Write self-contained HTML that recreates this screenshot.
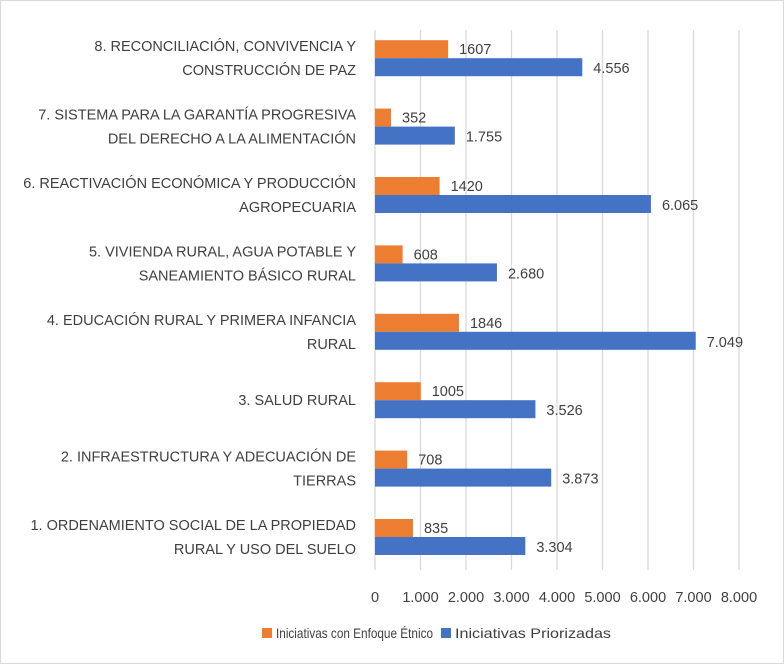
<!DOCTYPE html>
<html><head><meta charset="utf-8"><style>
body{margin:0;background:#fff}
svg{display:block;font-family:"Liberation Sans",sans-serif}
</style></head><body>
<svg id="c" width="784" height="664">
<rect x="0.5" y="0.5" width="783" height="663" fill="#fff" stroke="#d9d9d9"/>
<g id="grid"></g>
<g id="bars"></g>
<g id="cats"></g>
<g id="ticks"></g>
<g>
<rect x="262" y="628" width="10" height="10" fill="#ed7d31"/>
<text x="276" y="638" font-size="14" fill="#404040" textLength="157" lengthAdjust="spacingAndGlyphs">Iniciativas con Enfoque Étnico</text>
<rect x="441" y="628" width="10" height="10" fill="#4472c4"/>
<text x="455" y="638" font-size="14" fill="#404040" textLength="156" lengthAdjust="spacingAndGlyphs">Iniciativas Priorizadas</text>
</g>
</svg>
<script>
const categories=[
["1. ORDENAMIENTO SOCIAL DE LA PROPIEDAD","RURAL Y USO DEL SUELO"],
["2. INFRAESTRUCTURA Y ADECUACIÓN DE","TIERRAS"],
["3. SALUD RURAL"],
["4. EDUCACIÓN RURAL Y PRIMERA INFANCIA","RURAL"],
["5. VIVIENDA RURAL, AGUA POTABLE Y","SANEAMIENTO BÁSICO RURAL"],
["6. REACTIVACIÓN ECONÓMICA Y PRODUCCIÓN","AGROPECUARIA"],
["7. SISTEMA PARA LA GARANTÍA PROGRESIVA","DEL DERECHO A LA ALIMENTACIÓN"],
["8. RECONCILIACIÓN, CONVIVENCIA Y","CONSTRUCCIÓN DE PAZ"]];
const etnico=[835,708,1005,1846,608,1420,352,1607];
const etnicoLabels=["835","708","1005","1846","608","1420","352","1607"];
const priorizadas=[3304,3873,3526,7049,2680,6065,1755,4556];
const priorizadasLabels=["3.304","3.873","3.526","7.049","2.680","6.065","1.755","4.556"];
const tickValues=[0,1000,2000,3000,4000,5000,6000,7000,8000];
const tickLabels=["0","1.000","2.000","3.000","4.000","5.000","6.000","7.000","8.000"];
const NS="http://www.w3.org/2000/svg";
const x=v=>375+v*(739-375)/8000;
const yCenter=i=>537-(i)*68.4;
function mk(t,a,p){const e=document.createElementNS(NS,t);for(const k in a)e.setAttribute(k,a[k]);p.appendChild(e);return e;}
const g=document.getElementById('grid'),b=document.getElementById('bars'),c=document.getElementById('cats'),tk=document.getElementById('ticks');
tickValues.forEach((v,i)=>{
const l=mk('line',{x1:x(v),x2:x(v),y1:30,y2:570,stroke:'#d9d9d9','stroke-width':1.3},g);


const t=mk('text',{x:x(v),y:602,'text-anchor':'middle','font-size':14.5,fill:'#404040'},tk);
t.textContent=tickLabels[i];


});
categories.forEach((cat,i)=>{
const yc=yCenter(i);
const r1=mk('rect',{x:x(0),y:yc-18,width:x(etnico[i])-x(0),height:18,fill:'#ed7d31'},b);


const r2=mk('rect',{x:x(0),y:yc,width:x(priorizadas[i])-x(0),height:18,fill:'#4472c4'},b);


const t1=mk('text',{x:x(etnico[i])+11,y:yc-4,'font-size':14.5,fill:'#404040'},b);
t1.textContent=etnicoLabels[i];


const t2=mk('text',{x:x(priorizadas[i])+11,y:yc+15,'font-size':14.5,fill:'#404040'},b);
t2.textContent=priorizadasLabels[i];


const n=cat.length;
cat.forEach((line,j)=>{
const t=mk('text',{x:356,y:yc+5+(j-(n-1)/2)*24,'text-anchor':'end','font-size':14.5,fill:'#404040'},c);
t.textContent=line;


});
});
</script>
</body></html>
